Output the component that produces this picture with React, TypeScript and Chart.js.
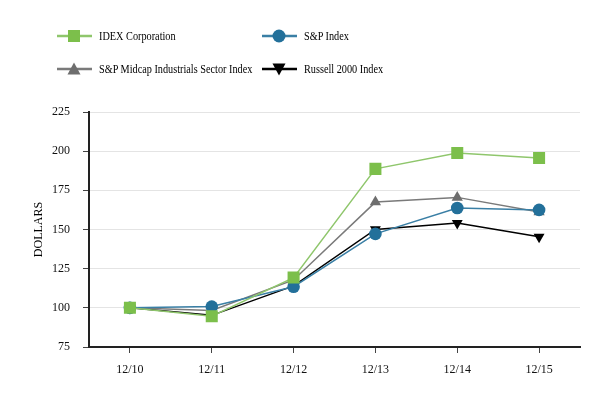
import React, { useEffect, useRef } from "react";
import { Chart, registerables } from "chart.js";

Chart.register(...registerables);

const categories = ["12/10", "12/11", "12/12", "12/13", "12/14", "12/15"];
const idexValues = [100, 94.7, 119.3, 188.7, 198.9, 195.7];
const spValues = [100, 100.8, 113.5, 147.2, 163.7, 162.5];
const midcapValues = [100, 98.3, 117.8, 167.5, 170.5, 161.2];
const russellValues = [100, 95.2, 114.0, 150.0, 154.1, 145.3];
const yMin = 75;
const yMax = 225;
const yStep = 25;

const seriesNames = [
  "IDEX Corporation",
  "S&P Index",
  "S&P Midcap Industrials Sector Index",
  "Russell 2000 Index",
];

const FONT = "'Liberation Serif', 'Times New Roman', serif";

const GREEN = "#7cbf4b";
const GREEN_LINE = "#8fc66c";
const BLUE = "#23709a";
const BLUE_LINE = "#3a7fa5";
const GRAY = "#6e6e6e";
const GRAY_LINE = "#7a7a7a";
const BLACK = "#000000";

function LegendIcon({ kind, color, line }: { kind: string; color: string; line: string }) {
  let marker: React.ReactNode = null;
  if (kind === "rect") marker = <rect x={11} y={2} width={12} height={12} fill={color} />;
  if (kind === "circle") marker = <circle cx={17} cy={8} r={6.5} fill={color} />;
  if (kind === "triangle") marker = <polygon points="17,1.5 23.5,13.5 10.5,13.5" fill={color} />;
  if (kind === "invtriangle") marker = <polygon points="10.5,2.5 23.5,2.5 17,14.5" fill={color} />;
  return (
    <svg width={35} height={16} style={{ position: "absolute", left: 0, top: 0 }}>
      <line x1={0} y1={8} x2={35} y2={8} stroke={line} strokeWidth={2.5} />
      {marker}
    </svg>
  );
}

function LegendItem({ x, y, kind, color, line, text }: any) {
  return (
    <div style={{ position: "absolute", left: x, top: y - 8, height: 16, width: 260 }}>
      <LegendIcon kind={kind} color={color} line={line} />
      <span
        style={{
          position: "absolute",
          left: 42,
          top: 0,
          lineHeight: "16px",
          fontSize: 12.5,
          fontFamily: FONT,
          color: "#000",
          whiteSpace: "nowrap",
          transform: "scaleX(0.82)",
          transformOrigin: "left center",
        }}
      >
        {text}
      </span>
    </div>
  );
}

export default function App() {
  const canvasRef = useRef<HTMLCanvasElement | null>(null);

  useEffect(() => {
    if (!canvasRef.current) return;
    const chart = new Chart(canvasRef.current, {
      type: "line",
      data: {
        labels: categories,
        datasets: [
          {
            label: seriesNames[0],
            data: idexValues,
            borderColor: GREEN_LINE,
            backgroundColor: GREEN,
            pointBackgroundColor: GREEN,
            pointBorderColor: GREEN,
            pointStyle: "rect",
            pointRadius: 8.5,
            borderWidth: 1.5,
            pointBorderWidth: 0,
          },
          {
            label: seriesNames[1],
            data: spValues,
            borderColor: BLUE_LINE,
            backgroundColor: BLUE,
            pointBackgroundColor: BLUE,
            pointBorderColor: BLUE,
            pointStyle: "circle",
            pointRadius: 6.3,
            borderWidth: 1.5,
            pointBorderWidth: 0,
          },
          {
            label: seriesNames[2],
            data: midcapValues,
            borderColor: GRAY_LINE,
            backgroundColor: GRAY,
            pointBackgroundColor: GRAY,
            pointBorderColor: GRAY,
            pointStyle: "triangle",
            pointRadius: 6.5,
            borderWidth: 1.5,
            pointBorderWidth: 0,
          },
          {
            label: seriesNames[3],
            data: russellValues,
            borderColor: BLACK,
            backgroundColor: BLACK,
            pointBackgroundColor: BLACK,
            pointBorderColor: BLACK,
            pointStyle: "triangle",
            pointRotation: 180,
            pointRadius: 6.3,
            borderWidth: 1.5,
            pointBorderWidth: 0,
          },
        ],
      },
      options: {
        responsive: false,
        animation: false,
        layout: { padding: { top: 112, right: 33, left: 0, bottom: 0 } },
        plugins: {
          legend: { display: false },
          tooltip: { enabled: false },
        },
        elements: { line: { tension: 0 } },
        scales: {
          x: {
            type: "category",
            offset: true,
            grid: {
              display: true,
              offset: false,
              drawOnChartArea: false,
              drawTicks: true,
              tickLength: 6,
              tickColor: "#444",
              tickWidth: 1,
            },
            border: { display: true, color: "#222", width: 2 },
            ticks: {
              color: "#111",
              font: { family: FONT, size: 12 },
              padding: 10,
              maxRotation: 0,
            },
            afterFit: (scale: any) => {
              scale.height = 53;
            },
          },
          y: {
            min: yMin,
            max: yMax,
            grid: {
              color: "#e4e4e4",
              lineWidth: 1,
              drawTicks: true,
              tickLength: 6,
              tickColor: "#444",
            },
            border: { display: true, color: "#222", width: 2 },
            ticks: {
              stepSize: yStep,
              color: "#111",
              font: { family: FONT, size: 12 },
              padding: 13,
            },
            title: {
              display: true,
              text: "DOLLARS",
              color: "#000",
              font: { family: FONT, size: 12 },
              padding: { top: 32, bottom: 0 },
            },
            afterFit: (scale: any) => {
              scale.width = 89;
            },
          },
        },
      },
    });
    return () => chart.destroy();
  }, []);

  return (
    <div style={{ position: "absolute", left: 0, top: 0, width: 613, height: 400, background: "#fff" }}>
      <canvas ref={canvasRef} width={613} height={400} style={{ width: 613, height: 400, display: "block" }} />
      <LegendItem x={57} y={36} kind="rect" color={GREEN} line={GREEN_LINE} text={seriesNames[0]} />
      <LegendItem x={262} y={36} kind="circle" color={BLUE} line={BLUE_LINE} text={seriesNames[1]} />
      <LegendItem x={57} y={69} kind="triangle" color={GRAY} line={GRAY_LINE} text={seriesNames[2]} />
      <LegendItem x={262} y={69} kind="invtriangle" color={BLACK} line={BLACK} text={seriesNames[3]} />
    </div>
  );
}
